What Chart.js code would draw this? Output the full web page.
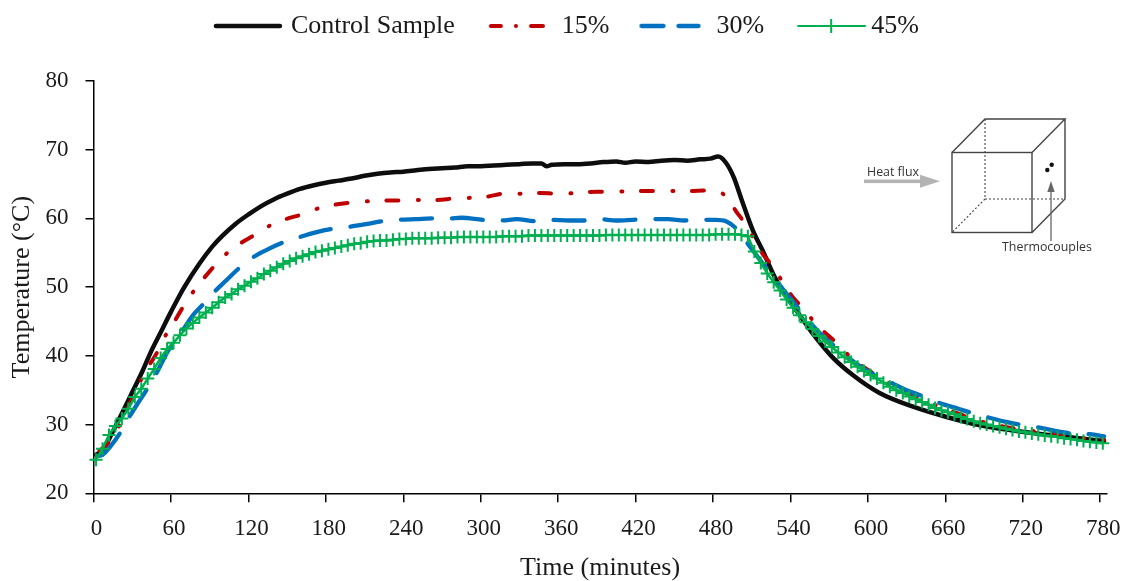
<!DOCTYPE html>
<html lang="en">
<head>
  <meta charset="UTF-8">
  <title>Temperature vs Time</title>
  <script src="https://cdnjs.cloudflare.com/ajax/libs/Chart.js/4.4.1/chart.umd.min.js"></script>
  <style>
    body { margin: 0; background: #fff; }
    canvas { display: block; }
  </style>
</head>
<body>
  <canvas id="temperature-chart" width="1129" height="581"></canvas>
  <script>
    const xTicks = [0, 60, 120, 180, 240, 300, 360, 420, 480, 540, 600, 660, 720, 780];
    const yTicks = [20, 30, 40, 50, 60, 70, 80];

    // Values
    const controlMinutes = [2, 8, 15, 22, 30, 38, 45, 52, 60, 70, 82, 92, 100, 110, 121, 130, 140, 150, 160, 170, 180, 190, 200, 210, 220, 230, 240, 250, 260, 270, 280, 290, 300, 310, 320, 330, 340, 347, 351, 355, 365, 375, 385, 395, 405, 412, 420, 430, 440, 450, 460, 470, 478, 484, 490, 496, 502, 511, 519, 528, 540, 548, 557, 573, 589, 609, 635, 661, 687, 710, 735, 760, 783];
    const controlTemps = [25.6, 26.5, 29, 31.6, 34.7, 37.8, 40.8, 43.4, 46.4, 49.9, 53.4, 55.9, 57.5, 59.2, 60.7, 61.8, 62.8, 63.6, 64.3, 64.8, 65.2, 65.5, 65.8, 66.2, 66.5, 66.7, 66.8, 67, 67.2, 67.3, 67.4, 67.6, 67.6, 67.7, 67.8, 67.9, 68, 68, 67.6, 67.8, 67.9, 67.9, 68, 68.2, 68.3, 68.1, 68.3, 68.2, 68.4, 68.5, 68.4, 68.6, 68.7, 69, 68.1, 66, 62.8, 58.2, 55.1, 51.4, 47.8, 45.7, 43.3, 39.7, 37.1, 34.6, 32.6, 31.1, 29.9, 29.2, 28.6, 28.1, 27.6];

    const minutes15 = [2, 10, 19, 28, 36, 43, 49, 55, 63, 68, 76, 90, 102, 114, 124, 136, 149, 160, 173, 187, 199, 213, 227, 239, 252, 266, 279, 292, 306, 318, 332, 346, 360, 375, 390, 405, 420, 435, 450, 465, 480, 490, 498, 505, 512, 519, 527, 534, 542, 550, 559, 569, 578, 587, 598, 609, 620, 632, 644, 656, 670, 685, 700, 715, 730, 745, 760, 772, 783];
    const temps15 = [25.9, 27, 29.5, 33, 36.2, 38.6, 40.4, 42.7, 45.1, 46.7, 49, 52.3, 54.7, 56.4, 57.5, 58.9, 59.9, 60.5, 61.4, 62, 62.3, 62.5, 62.6, 62.6, 62.7, 62.7, 62.9, 63, 63.2, 63.6, 63.6, 63.7, 63.6, 63.7, 63.9, 63.9, 64, 64, 64, 64, 64.1, 63.2, 61, 59.2, 56.9, 54.7, 52.9, 50.7, 48.5, 46.9, 44.8, 43, 41.5, 39.7, 38.2, 36.9, 35.6, 34.4, 33.4, 32.6, 31.6, 30.6, 29.9, 29.4, 29, 28.6, 28.2, 27.9, 27.8];

    const minutes30 = [2, 7, 13, 20, 27, 34, 41, 48, 58, 69, 77, 85, 94, 103, 113, 124, 135, 147, 160, 173, 186, 199, 212, 224, 237, 250, 263, 275, 285, 302, 316, 328, 342, 355, 368, 380, 392, 405, 418, 432, 445, 458, 470, 482, 490, 498, 507, 515, 525, 535, 545, 555, 565, 575, 590, 605, 619, 630, 643, 656, 670, 682, 694, 707, 720, 732, 745, 759, 772, 783];
    const temps30 = [25.4, 25.6, 26.8, 28.6, 30.9, 33, 35, 37.2, 40.8, 43.7, 45.9, 47.5, 49.4, 51, 52.8, 54.4, 55.5, 56.5, 57.3, 58, 58.5, 58.8, 59.2, 59.6, 59.8, 59.9, 60, 60, 60.1, 59.8, 59.7, 59.9, 59.6, 59.8, 59.7, 59.7, 59.9, 59.7, 59.8, 59.9, 59.9, 59.7, 59.8, 59.8, 59.6, 58.5, 56.3, 54.3, 51.9, 49.5, 47.2, 44.9, 42.9, 41.3, 39, 37.2, 36, 35, 34.1, 33.1, 32.3, 31.6, 31, 30.4, 29.9, 29.6, 29.1, 28.7, 28.6, 28.3];

    const minutes45 = [2, 7, 12, 17, 22, 27, 32, 37, 42, 47, 52, 57, 62, 67, 72, 77, 82, 87, 92, 97, 102, 107, 112, 117, 122, 127, 132, 137, 142, 147, 152, 157, 162, 167, 172, 177, 182, 187, 192, 197, 202, 207, 212, 217, 222, 227, 232, 237, 242, 247, 252, 257, 262, 267, 272, 277, 282, 287, 292, 297, 302, 307, 312, 317, 322, 327, 332, 337, 342, 347, 352, 357, 362, 367, 372, 377, 382, 387, 392, 397, 402, 407, 412, 417, 422, 427, 432, 437, 442, 447, 452, 457, 462, 467, 472, 477, 482, 487, 492, 497, 502, 507, 512, 517, 522, 527, 532, 537, 542, 547, 552, 557, 562, 567, 572, 577, 582, 587, 592, 597, 602, 607, 612, 617, 622, 627, 632, 637, 642, 647, 652, 657, 662, 667, 672, 677, 682, 687, 692, 697, 702, 707, 712, 717, 722, 727, 732, 737, 742, 747, 752, 757, 762, 767, 772, 777, 782];
    const temps45 = [24.9, 26.5, 28.5, 29.8, 30.9, 32.3, 34, 35.2, 36.7, 38.1, 39.7, 41, 41.9, 43, 44, 44.8, 45.6, 46.3, 47, 47.8, 48.5, 49, 49.7, 50.2, 50.8, 51.3, 51.9, 52.4, 52.9, 53.4, 53.8, 54.2, 54.5, 54.8, 55.1, 55.3, 55.5, 55.7, 55.9, 56.1, 56.3, 56.4, 56.6, 56.7, 56.8, 56.8, 56.9, 57, 57, 57.1, 57.1, 57.1, 57.1, 57.2, 57.2, 57.2, 57.3, 57.3, 57.3, 57.3, 57.3, 57.3, 57.3, 57.4, 57.4, 57.4, 57.4, 57.5, 57.5, 57.5, 57.5, 57.5, 57.5, 57.5, 57.5, 57.5, 57.5, 57.5, 57.5, 57.6, 57.6, 57.6, 57.6, 57.6, 57.6, 57.6, 57.6, 57.6, 57.6, 57.6, 57.6, 57.6, 57.6, 57.6, 57.6, 57.6, 57.7, 57.7, 57.7, 57.7, 57.6, 57.4, 55.2, 53.5, 52, 50.7, 49.5, 48.2, 47, 45.9, 44.9, 43.9, 42.9, 42.1, 41.3, 40.5, 39.8, 39.1, 38.4, 37.8, 37.2, 36.7, 36.1, 35.5, 35, 34.6, 34.1, 33.7, 33.3, 32.9, 32.4, 32.1, 31.8, 31.5, 31.1, 30.8, 30.5, 30.2, 30, 29.8, 29.6, 29.4, 29.2, 29, 28.9, 28.7, 28.6, 28.4, 28.3, 28.2, 28, 27.9, 27.8, 27.6, 27.5, 27.4, 27.3];

    const toPoints = (xs, ys) => xs.map((x, i) => ({ x: x, y: ys[i] }));

    const BLACK = '#0d0d0d', RED = '#c00000', BLUE = '#0070c0', GREEN = '#00b050';
    const TEXT = '#1a1a1a';
    const SERIF = '"Liberation Serif", serif';
    const BOX_WIDTH = 64;

    // legend sample drawn on a small canvas so dash patterns and the plus show up.
    // from/to are measured from the left of the legend box, the canvas is centred on it
    function legendSample(color, width, dash, from, to, plusAt) {
      const c = document.createElement('canvas');
      c.width = 100;
      c.height = 14;
      const left = (c.width - BOX_WIDTH) / 2;
      const g = c.getContext('2d');
      g.strokeStyle = color;
      g.lineWidth = width;
      g.lineCap = 'round';
      g.setLineDash(dash);
      g.beginPath();
      g.moveTo(left + from, 7);
      g.lineTo(left + to, 7);
      g.stroke();
      if (plusAt) {
        g.setLineDash([]);
        g.lineCap = 'butt';
        g.beginPath();
        g.moveTo(left + plusAt, 0);
        g.lineTo(left + plusAt, 14);
        g.stroke();
      }
      return c;
    }

    const legendSamples = [
      legendSample(BLACK, 4.5, [], 2, 66),
      legendSample(RED, 4, [10, 15, 0.1, 15, 12, 20], 6, 66),
      legendSample(BLUE, 4.3, [22, 15, 20, 20], 2, 63),
      legendSample(GREEN, 2, [], 4, 71, 37)
    ];

    // legend sits higher and further right than the layout would put it
    const legendOffsetPlugin = {
      id: 'legendOffset',
      afterLayout(chart) {
        chart.legend.top -= 32;
        chart.legend.left += 13;
        chart.legend.right += 13;
      }
    };

    // small sketch of the test cube, top right of the plot
    const insetPlugin = {
      id: 'inset',
      afterDraw(chart) {
        const g = chart.ctx;
        g.save();
        g.strokeStyle = '#444';
        g.lineWidth = 1.4;
        g.strokeRect(952, 152.5, 80, 80);
        g.beginPath();
        g.moveTo(952, 152.5); g.lineTo(985, 119); g.lineTo(1065, 119); g.lineTo(1032, 152.5);
        g.moveTo(1065, 119); g.lineTo(1065, 199); g.lineTo(1032, 232.5);
        g.stroke();
        g.setLineDash([2, 2]);
        g.lineWidth = 1.1;
        g.beginPath();
        g.moveTo(985, 119); g.lineTo(985, 199); g.lineTo(1065, 199);
        g.moveTo(985, 199); g.lineTo(952, 232.5);
        g.stroke();
        g.setLineDash([]);

        g.fillStyle = '#111';
        g.beginPath(); g.arc(1047.3, 170, 2.2, 0, Math.PI * 2); g.fill();
        g.beginPath(); g.arc(1051.7, 164.7, 2.2, 0, Math.PI * 2); g.fill();

        // thermocouple arrow
        g.strokeStyle = '#666';
        g.fillStyle = '#666';
        g.lineWidth = 1.3;
        g.beginPath(); g.moveTo(1051, 241); g.lineTo(1051, 190); g.stroke();
        g.beginPath(); g.moveTo(1051, 181); g.lineTo(1054.7, 192); g.lineTo(1047.3, 192); g.closePath(); g.fill();

        // heat flux arrow
        g.fillStyle = '#b3b3b3';
        g.fillRect(864, 179.5, 57, 3.6);
        g.beginPath(); g.moveTo(940, 181.3); g.lineTo(920, 174.8); g.lineTo(920, 187.8); g.closePath(); g.fill();

        g.fillStyle = '#333';
        g.font = '12.4px "Open Sans", sans-serif';
        g.textBaseline = 'middle';
        g.fillText('Heat flux', 867, 172);
        g.fillText('Thermocouples', 1002, 247);
        g.restore();
      }
    };

    new Chart(document.getElementById('temperature-chart').getContext('2d'), {
      type: 'line',
      data: {
        datasets: [
          {
            label: 'Control Sample',
            data: toPoints(controlMinutes, controlTemps),
            borderColor: BLACK,
            borderWidth: 4.5,
            pointRadius: 0,
            cubicInterpolationMode: 'monotone',
            borderCapStyle: 'round',
            borderJoinStyle: 'round',
            order: 4
          },
          {
            label: '15%',
            data: toPoints(minutes15, temps15),
            borderColor: RED,
            borderWidth: 4,
            borderDash: [12, 19.5, 1, 18.5],
            borderDashOffset: -4,
            pointRadius: 0,
            cubicInterpolationMode: 'monotone',
            borderCapStyle: 'round',
            borderJoinStyle: 'round',
            order: 3
          },
          {
            label: '30%',
            data: toPoints(minutes30, temps30),
            borderColor: BLUE,
            borderWidth: 4.3,
            borderDash: [31, 20],
            borderDashOffset: -3,
            pointRadius: 0,
            cubicInterpolationMode: 'monotone',
            borderCapStyle: 'round',
            borderJoinStyle: 'round',
            order: 2
          },
          {
            label: '45%',
            data: toPoints(minutes45, temps45),
            borderColor: GREEN,
            borderWidth: 2.5,
            pointStyle: 'cross',
            pointRadius: 6.5,
            pointBorderColor: GREEN,
            pointBorderWidth: 2,
            tension: 0,
            clip: false,
            order: 1
          }
        ]
      },
      options: {
        responsive: false,
        animation: false,
        layout: { padding: { top: 15, right: 22.3, bottom: 0, left: 0 } },
        plugins: {
          tooltip: { enabled: false },
          legend: {
            position: 'top',
            labels: {
              usePointStyle: true,
              pointStyleWidth: BOX_WIDTH,
              padding: 30,
              color: TEXT,
              font: { family: SERIF, size: 26 },
              sort: (a, b) => a.datasetIndex - b.datasetIndex,
              generateLabels(chart) {
                const items = Chart.defaults.plugins.legend.labels.generateLabels(chart);
                items.forEach(item => { item.pointStyle = legendSamples[item.datasetIndex]; });
                return items;
              }
            }
          }
        },
        scales: {
          x: {
            type: 'linear',
            min: 0,
            max: 785,
            afterBuildTicks(scale) { scale.ticks = xTicks.map(v => ({ value: v })); },
            afterFit(scale) { scale.height = 87.7; scale.paddingRight = 0; scale.paddingLeft = 0; },
            border: { color: '#000', width: 1.5 },
            grid: { drawOnChartArea: false, color: '#000', lineWidth: 1.5, tickLength: 9 },
            ticks: { color: TEXT, font: { family: SERIF, size: 23 }, padding: 13, maxRotation: 0, labelOffset: 3 },
            title: { display: true, text: 'Time (minutes)', color: TEXT, font: { family: SERIF, size: 26, lineHeight: 1 }, padding: { top: 8, bottom: 0 } }
          },
          y: {
            min: 20,
            max: 80,
            afterBuildTicks(scale) { scale.ticks = yTicks.map(v => ({ value: v })); },
            afterFit(scale) { scale.width = 93.5; },
            border: { color: '#000', width: 1.5 },
            grid: { drawOnChartArea: false, color: '#000', lineWidth: 1.5, tickLength: 8 },
            ticks: { color: TEXT, font: { family: SERIF, size: 23 }, padding: 17 },
            title: { display: true, text: 'Temperature (°C)', color: TEXT, font: { family: SERIF, size: 26, lineHeight: 1 }, padding: { top: 9, bottom: 0 } }
          }
        }
      },
      plugins: [legendOffsetPlugin, insetPlugin]
    });
  </script>
</body>
</html>
